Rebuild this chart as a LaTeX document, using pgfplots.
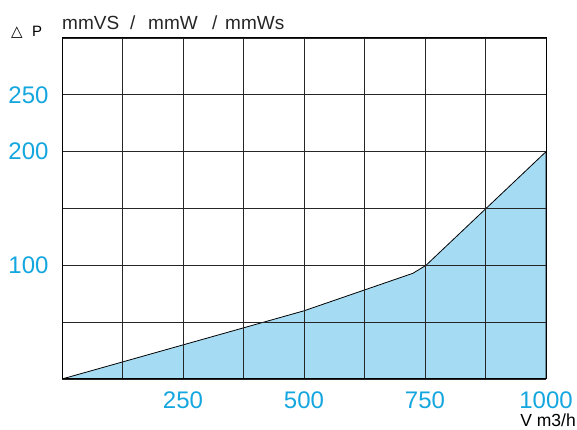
\documentclass[border=0pt]{standalone}
\usepackage{fontspec}
\setmainfont{Liberation Sans}
\newfontfamily\symfont{DejaVu Sans}
\usepackage{pgfplots}
\pgfplotsset{compat=1.18}
\usetikzlibrary{calc}
\definecolor{tickcyan}{RGB}{20,166,222}
\definecolor{areablue}{RGB}{166,220,243}

\begin{document}
\begin{tikzpicture}
\begin{axis}[
    scale only axis,
    width=484pt, height=341pt,
    xmin=0, xmax=1000, ymin=0, ymax=300,
    xtick={0,125,...,1000},
    xticklabels={,,250,,500,,750,,1000},
    ytick={0,50,...,300},
    yticklabels={,,100,,200,250,},
    major tick length=0pt,
    grid=major,
    major grid style={black!85, line width=0.9pt},
    axis line style={black, line width=1pt},
    tick label style={font=\fontsize{24}{26}\selectfont, text=tickcyan},
    /pgf/number format/assume math mode=true,
    xticklabel style={yshift=-9pt},
    yticklabel style={xshift=-10pt},
    axis on top,
]
\addplot[fill=areablue, draw=black, line width=0.8pt] coordinates {
    (0,0) (500,60) (725,93) (752,100) (1000,200)
} \closedcycle;
\coordinate (o) at (rel axis cs:0,0);
\end{axis}
% unit label above the plot
\begin{scope}[every node/.style={anchor=base west, inner sep=0pt, font=\fontsize{19}{21}\selectfont, text=black!85}]
\node at ($(o)+(0pt,349pt)$) {mmVS};
\node at ($(o)+(68pt,349pt)$) {/};
\node at ($(o)+(86pt,349pt)$) {mmW};
\node at ($(o)+(150pt,349pt)$) {/};
\node at ($(o)+(163pt,349pt)$) {mmWs};
\end{scope}
\node[anchor=base west, inner sep=0pt, font=\symfont\fontsize{15}{17}\selectfont]
    at ($(o)+(-51pt,342pt)$) {△};
\node[anchor=base west, inner sep=0pt, font=\fontsize{15}{17}\selectfont]
    at ($(o)+(-30pt,342pt)$) {P};
\node[anchor=base east, inner sep=0pt, font=\fontsize{17.5}{19}\selectfont]
    at ($(o)+(514pt,-47.5pt)$) {V m3/h};
\path[use as bounding box] ($(o)+(-62pt,-51pt)$) rectangle ($(o)+(515pt,379pt)$);
\end{tikzpicture}
\end{document}
